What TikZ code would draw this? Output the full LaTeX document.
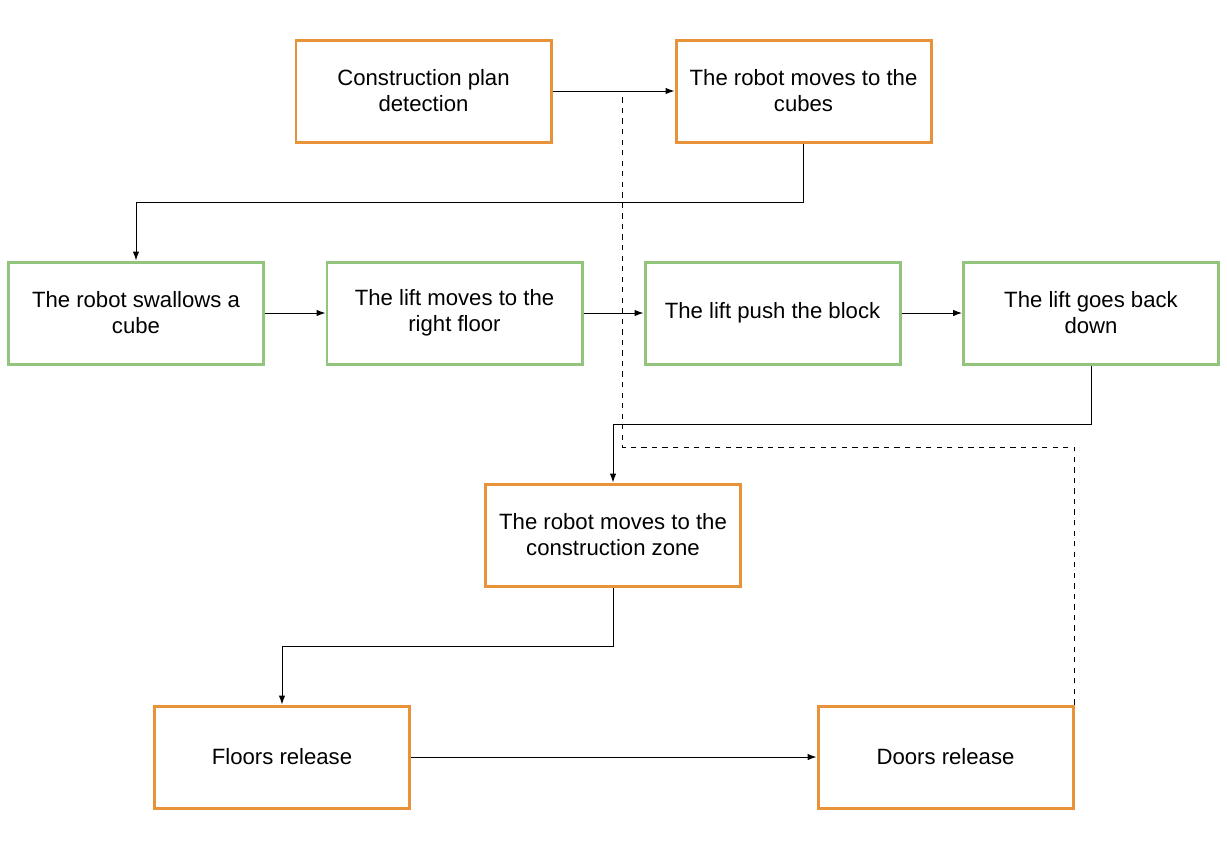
\documentclass[tikz,border=0pt]{standalone}
\usepackage{fontspec}
\setmainfont{Liberation Sans}
\usepackage{tikz}
\usetikzlibrary{arrows.meta}

\definecolor{boxorange}{RGB}{232,147,58}
\definecolor{boxgreen}{RGB}{147,196,125}

\begin{document}
\begin{tikzpicture}[
  step box/.style={draw,line width=1.7pt,minimum width=5.1cm,minimum height=2.04cm,align=center,font=\fontsize{12.6}{14.8}\selectfont},
  robot/.style={step box,draw=boxorange},
  lift/.style={step box,draw=boxgreen},
  flow/.style={-{Latex[length=5pt,width=3.6pt]},line width=0.55pt},
  link/.style={dashed,line width=0.55pt}]
  \useasboundingbox (0,0) rectangle (24.54,-17.02);
  %top
  \node[robot] (plan) at (8.47,-1.82) {Construction plan\\detection};
  \node[robot] (cubes) at (16.07,-1.82) {The robot moves to the\\cubes};
  %lift steps
  \node[lift] (swallow) at (2.72,-6.26) {The robot swallows a\\cube};
  \node[lift] (floor) at (9.09,-6.26) {The lift moves to the\\right floor};
  \node[lift] (push) at (15.45,-6.26) {The lift push the block};
  \node[lift] (back) at (21.82,-6.26) {The lift goes back\\down};
  %bottom
  \node[robot] (zone) at (12.26,-10.70) {The robot moves to the\\construction zone};
  \node[robot] (floors) at (5.64,-15.14) {Floors release};
  \node[robot] (doors) at (18.91,-15.14) {Doors release};
  \coordinate (tap) at (12.44,-1.82);
  \coordinate (turn) at (12.44,-8.94);

  \draw[flow] (plan) -- (cubes);
  \draw[flow] (cubes.south) -- ++(0,-1.18) -| (swallow.north);
  \draw[flow] (swallow) -- (floor);
  \draw[flow] (floor) -- (push);
  \draw[flow] (push) -- (back);
  \draw[flow] (back.south) -- ++(0,-1.18) -| (zone.north);
  \draw[flow] (zone.south) -- ++(0,-1.18) -| (floors.north);
  \draw[flow] (floors) -- (doors);
  \draw[link] (doors.north east) |- (turn) -- (tap);
\end{tikzpicture}
\end{document}
